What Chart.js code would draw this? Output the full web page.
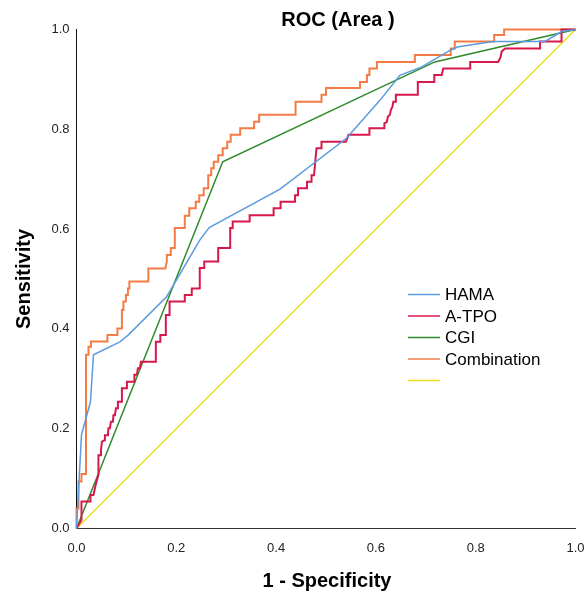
<!DOCTYPE html>
<html>
<head>
<meta charset="utf-8">
<title>ROC (Area )</title>
<script src="https://cdn.jsdelivr.net/npm/chart.js@4/dist/chart.umd.min.js"></script>
<style>
  html, body { margin:0; padding:0; background:#ffffff; }
  #wrap { width:585px; height:594px; }
</style>
</head>
<body>
<div id="wrap"><canvas id="rocChart" width="585" height="594"></canvas></div>
<script>

// =========================
// Data
// =========================

const tickValues = [0, 0.2, 0.4, 0.6, 0.8, 1.0];

const hamaX = [0, 0.010, 0.028, 0.034, 0.087, 0.104, 0.181, 0.247, 0.266, 0.408, 0.541, 0.608, 0.648, 0.692, 0.750, 0.763, 0.835, 0.939, 0.972, 1];
const hamaY = [0, 0.188, 0.254, 0.348, 0.374, 0.388, 0.465, 0.578, 0.603, 0.680, 0.782, 0.858, 0.908, 0.925, 0.959, 0.965, 0.976, 0.976, 0.996, 1];

const tpoX = [0, 0.010, 0.010, 0.028, 0.028, 0.034, 0.037, 0.040, 0.044, 0.044, 0.048, 0.049, 0.051, 0.056, 0.057, 0.063, 0.064, 0.067, 0.069, 0.073,
              0.074, 0.077, 0.079, 0.083, 0.083, 0.091, 0.091, 0.101, 0.101, 0.116, 0.116, 0.121, 0.123, 0.127, 0.129, 0.159, 0.159, 0.168, 0.168, 0.179,
              0.179, 0.186, 0.186, 0.187, 0.217, 0.217, 0.231, 0.231, 0.247, 0.247, 0.256, 0.256, 0.284, 0.284, 0.308, 0.308, 0.313, 0.313, 0.347, 0.347,
              0.395, 0.395, 0.409, 0.409, 0.438, 0.438, 0.444, 0.444, 0.462, 0.462, 0.471, 0.471, 0.476, 0.481, 0.491, 0.491, 0.540, 0.545, 0.587, 0.587,
              0.617, 0.617, 0.622, 0.624, 0.628, 0.630, 0.633, 0.635, 0.640, 0.640, 0.684, 0.684, 0.717, 0.717, 0.732, 0.735, 0.789, 0.789, 0.845, 0.850,
              0.852, 0.859, 0.929, 0.929, 0.972, 0.972, 1];
const tpoY = [0, 0.017, 0.054, 0.054, 0.067, 0.067, 0.081, 0.094, 0.107, 0.147, 0.147, 0.157, 0.174, 0.177, 0.187, 0.187, 0.201, 0.201, 0.214, 0.214,
              0.227, 0.227, 0.241, 0.241, 0.254, 0.254, 0.281, 0.281, 0.294, 0.294, 0.308, 0.308, 0.321, 0.321, 0.334, 0.334, 0.374, 0.374, 0.388, 0.388,
              0.428, 0.428, 0.441, 0.455, 0.455, 0.468, 0.468, 0.481, 0.481, 0.522, 0.522, 0.535, 0.535, 0.562, 0.562, 0.602, 0.602, 0.615, 0.615, 0.628,
              0.628, 0.642, 0.642, 0.655, 0.655, 0.668, 0.668, 0.682, 0.682, 0.695, 0.695, 0.708, 0.708, 0.762, 0.762, 0.775, 0.775, 0.789, 0.789, 0.802,
              0.802, 0.812, 0.815, 0.825, 0.829, 0.839, 0.845, 0.855, 0.855, 0.869, 0.869, 0.895, 0.895, 0.909, 0.909, 0.922, 0.922, 0.935, 0.935, 0.945,
              0.956, 0.962, 0.962, 0.976, 0.976, 1, 1];

const cgiX = [0, 0.293, 0.718, 1];
const cgiY = [0, 0.735, 0.935, 1];

const comboX = [0, 0, 0.004, 0.004, 0.010, 0.010, 0.019, 0.019, 0.024, 0.024, 0.029, 0.029, 0.062, 0.062, 0.082, 0.082, 0.091, 0.091, 0.094, 0.094,
                0.099, 0.099, 0.103, 0.103, 0.106, 0.106, 0.144, 0.144, 0.178, 0.181, 0.181, 0.189, 0.189, 0.197, 0.197, 0.217, 0.217, 0.226, 0.226, 0.239,
                0.239, 0.246, 0.246, 0.255, 0.255, 0.264, 0.264, 0.270, 0.270, 0.275, 0.275, 0.284, 0.284, 0.293, 0.293, 0.302, 0.302, 0.309, 0.309, 0.328,
                0.328, 0.356, 0.356, 0.366, 0.366, 0.439, 0.439, 0.491, 0.491, 0.500, 0.500, 0.568, 0.568, 0.582, 0.582, 0.587, 0.587, 0.602, 0.602, 0.678,
                0.678, 0.750, 0.750, 0.758, 0.758, 0.837, 0.837, 0.857, 0.857, 1];
const comboY = [0, 0.040, 0.040, 0.094, 0.094, 0.109, 0.109, 0.348, 0.348, 0.364, 0.364, 0.375, 0.375, 0.388, 0.388, 0.401, 0.401, 0.438, 0.438, 0.455,
                0.455, 0.468, 0.468, 0.481, 0.481, 0.495, 0.495, 0.521, 0.521, 0.535, 0.548, 0.548, 0.562, 0.562, 0.602, 0.602, 0.627, 0.627, 0.642, 0.642,
                0.655, 0.655, 0.668, 0.668, 0.682, 0.682, 0.708, 0.708, 0.722, 0.722, 0.735, 0.735, 0.748, 0.748, 0.762, 0.762, 0.775, 0.775, 0.789, 0.789,
                0.802, 0.802, 0.815, 0.815, 0.829, 0.829, 0.855, 0.855, 0.869, 0.869, 0.883, 0.883, 0.895, 0.895, 0.909, 0.909, 0.922, 0.922, 0.935, 0.935,
                0.949, 0.949, 0.962, 0.962, 0.976, 0.976, 0.989, 0.989, 1, 1];

const refX = [0, 1];
const refY = [0, 1];

const seriesNames = ["HAMA", "A-TPO", "CGI", "Combination", ""];
const seriesColors = ["#5b9be0", "#d8174b", "#2f8a2a", "#f47c44", "#e6df1e"];


// =========================
// Helpers
// =========================

function toPoints(xs, ys){
    return xs.map((x, i) => ({ x: x, y: ys[i] }));
}

function makeSet(i, xs, ys, width){
    return {
        label: seriesNames[i],
        data: toPoints(xs, ys),
        borderColor: seriesColors[i],
        backgroundColor: seriesColors[i],
        borderWidth: width,
        showLine: true,
        pointRadius: 0,
        pointHoverRadius: 0,
        tension: 0,
        fill: false,
        clip: 4
    };
}

// keep the plot box fixed, no room kept for tick label overhang
function noOverhang(scale){
    scale.paddingLeft = 0;
    scale.paddingRight = 0;
    scale.paddingTop = 0;
    scale.paddingBottom = 0;
}


// =========================
// Titles + Legend plugin
// =========================

const textPlugin = {
    id: "rocText",
    afterDraw(chart){
        const c = chart.ctx;
        c.save();
        c.fillStyle = "#000000";
        c.textBaseline = "middle";

        // title
        c.font = "bold 20px 'Liberation Sans', Arial, sans-serif";
        c.textAlign = "center";
        c.fillText("ROC (Area )", 338, 20);

        // x axis title
        c.fillText("1 - Specificity", 327, 581);

        // y axis title
        c.save();
        c.translate(24, 279);
        c.rotate(-Math.PI / 2);
        c.fillText("Sensitivity", 0, 0);
        c.restore();

        // legend
        c.font = "17px 'Liberation Sans', Arial, sans-serif";
        c.textAlign = "left";
        const rows = [294.5, 316, 337.5, 359, 380.5];
        seriesNames.forEach((name, i) => {
            c.strokeStyle = seriesColors[i];
            c.lineWidth = 1.5;
            c.beginPath();
            c.moveTo(408, rows[i]);
            c.lineTo(440, rows[i]);
            c.stroke();
            if(name) c.fillText(name, 445, rows[i] + 1);
        });

        c.restore();
    }
};


// =========================
// Create Chart
// =========================

const ctx = document.getElementById("rocChart").getContext("2d");

const rocChart = new Chart(ctx, {

    type: "scatter",

    data: {
        datasets: [
            makeSet(0, hamaX, hamaY, 1.5),
            makeSet(1, tpoX, tpoY, 2),
            makeSet(2, cgiX, cgiY, 1.5),
            makeSet(3, comboX, comboY, 2),
            makeSet(4, refX, refY, 1.5)
        ]
    },

    options: {

        responsive: false,
        animation: false,
        devicePixelRatio: 1,

        layout: {
            padding: { left: 0, right: 9.5, top: 29.5, bottom: 0 }
        },

        plugins: {
            legend: { display: false },
            title: { display: false },
            tooltip: { enabled: false }
        },

        scales: {

            x: {
                type: "linear",
                min: 0,
                max: 1,
                afterBuildTicks(scale){
                    scale.ticks = tickValues.map(v => ({ value: v }));
                },
                afterFit(scale){
                    scale.height = 65.5;
                    noOverhang(scale);
                },
                ticks: {
                    padding: 12,
                    color: "#222222",
                    font: { family: "'Liberation Sans', Arial, sans-serif", size: 13 },
                    callback: v => Number(v).toFixed(1)
                },
                grid: { display: false, drawTicks: false },
                border: { display: true, color: "#333333", width: 1 }
            },

            y: {
                type: "linear",
                min: 0,
                max: 1,
                afterBuildTicks(scale){
                    scale.ticks = tickValues.map(v => ({ value: v }));
                },
                afterFit(scale){
                    scale.width = 76.5;
                    noOverhang(scale);
                },
                ticks: {
                    padding: 7,
                    color: "#222222",
                    font: { family: "'Liberation Sans', Arial, sans-serif", size: 13 },
                    callback: v => Number(v).toFixed(1)
                },
                grid: { display: false, drawTicks: false },
                border: { display: true, color: "#111111", width: 1 }
            }

        }

    },

    plugins: [textPlugin]

});

</script>
</body>
</html>
